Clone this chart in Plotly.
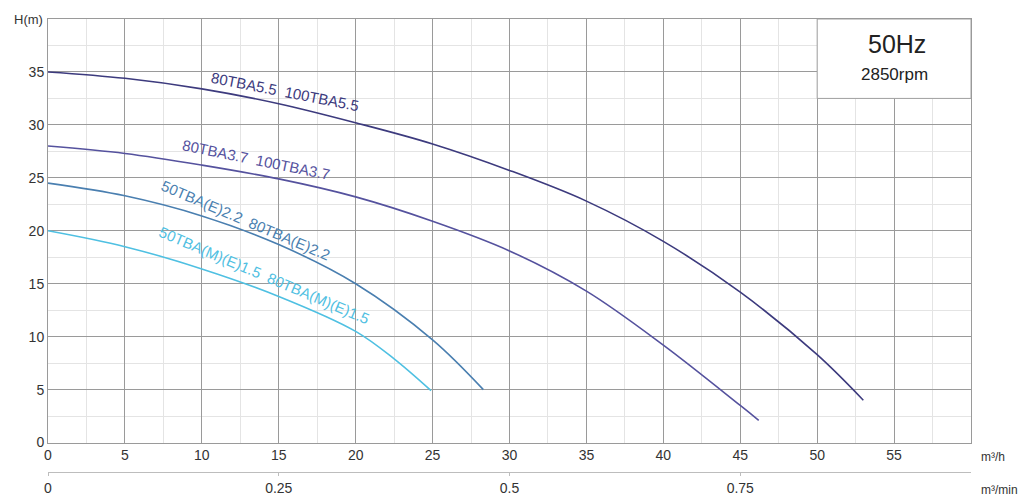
import plotly.graph_objects as go

# ---- data (flow m3/h, head m) ----
c1_x = [0, 5, 10, 15, 20, 25, 30, 35, 40, 45, 50, 53]
c1_y = [35, 34.4, 33.4, 32.0, 30.2, 28.2, 25.7, 22.8, 19.0, 14.2, 8.3, 4.0]
c2_x = [0, 5, 10, 15, 20, 25, 30, 35, 40, 45, 46.2]
c2_y = [28, 27.3, 26.2, 24.9, 23.2, 20.9, 18.1, 14.3, 9.2, 3.5, 2.1]
c3_x = [0, 5, 10, 15, 20, 25, 28.3]
c3_y = [24.5, 23.3, 21.4, 18.7, 15.0, 9.7, 5.0]
c4_x = [0, 5, 10, 15, 20, 22.5, 24.9]
c4_y = [20, 18.5, 16.4, 13.8, 10.5, 7.9, 4.9]

names = ["80TBA5.5  100TBA5.5", "80TBA3.7  100TBA3.7",
         "50TBA(E)2.2  80TBA(E)2.2", "50TBA(M)(E)1.5  80TBA(M)(E)1.5"]
colors = ["#3d3b7e", "#55529e", "#4a7fb0", "#4fc0e2"]
label_x = [15.4, 13.5, 12.9, 14.1]
label_y = [33.2, 26.7, 21.0, 15.8]
label_angle = [11, 11.5, 23, 23]

x_ticks_h = [0, 5, 10, 15, 20, 25, 30, 35, 40, 45, 50, 55]
x_ticks_min = [0, 0.25, 0.5, 0.75]
y_ticks = [0, 5, 10, 15, 20, 25, 30, 35]

FONT = "Arial, Liberation Sans, sans-serif"

fig = go.Figure()
for xs, ys, c in zip([c1_x, c2_x, c3_x, c4_x], [c1_y, c2_y, c3_y, c4_y], colors):
    fig.add_trace(go.Scatter(x=xs, y=ys, mode="lines",
                             line=dict(color=c, width=1.6, shape="spline", smoothing=1.0),
                             showlegend=False, hoverinfo="skip"))

# secondary axis trace (invisible) to activate xaxis2
fig.add_trace(go.Scatter(x=[0, 1], y=[None, None], xaxis="x2", yaxis="y",
                         mode="lines", showlegend=False, hoverinfo="skip"))

for t, x, y, a, c in zip(names, label_x, label_y, label_angle, colors):
    fig.add_annotation(x=x, y=y, text=t, textangle=a, showarrow=False,
                       font=dict(family=FONT, size=15, color=c))

# 50Hz box
fig.add_shape(type="rect", x0=50, x1=60, y0=32.5, y1=40, xref="x", yref="y",
              fillcolor="white", line=dict(color="#a0a0a0", width=1), layer="above")
fig.add_annotation(x=55.2, y=37.6, text="50Hz", showarrow=False,
                   font=dict(family=FONT, size=25, color="#222"))
fig.add_annotation(x=55.0, y=34.8, text="2850rpm", showarrow=False,
                   font=dict(family=FONT, size=17, color="#222"))

# axis unit labels
fig.add_annotation(x=0, y=1.0, xref="paper", yref="paper", text="H(m)", showarrow=False,
                   xanchor="right", yanchor="middle", xshift=-3,
                   font=dict(family=FONT, size=13, color="#333"))
fig.add_annotation(x=1.0, y=0.033, xref="paper", yref="paper", text="m³/h", showarrow=False,
                   xanchor="left", yanchor="middle", xshift=8,
                   font=dict(family=FONT, size=12, color="#333"))
fig.add_annotation(x=1.0, y=0, xref="paper", yref="paper", text="m³/min", showarrow=False,
                   xanchor="left", yanchor="middle", xshift=8, yshift=-18,
                   font=dict(family=FONT, size=12, color="#333"))

fig.update_layout(
    width=1022, height=497,
    margin=dict(l=48, r=51, t=19, b=25, autoexpand=False),
    paper_bgcolor="white", plot_bgcolor="white",
    font=dict(family=FONT, size=14, color="#333"),
    xaxis=dict(range=[0, 60], tickvals=x_ticks_h, showgrid=True, gridcolor="#9a9a9a",
               gridwidth=1, showline=True, linecolor="#9a9a9a", mirror=True,
               zeroline=False, ticks="", anchor="y", automargin=False,
               minor=dict(dtick=2.5, showgrid=True, gridcolor="#e4e4e4", gridwidth=1),
               tickfont=dict(size=14, color="#333")),
    xaxis2=dict(range=[0, 1.0], tickvals=x_ticks_min, ticktext=["0", "0.25", "0.5", "0.75"],
                overlaying="x", side="bottom", anchor="free", position=0,
                showgrid=False, showline=True, linecolor="#bdbdbd", zeroline=False,
                ticks="outside", ticklen=3, tickcolor="#bdbdbd", automargin=False,
                tickfont=dict(size=14, color="#333")),
    yaxis=dict(range=[0, 40], tickvals=y_ticks, domain=[0.065, 1],
               showgrid=True, gridcolor="#9a9a9a", gridwidth=1, automargin=False,
               showline=True, linecolor="#9a9a9a", mirror=True, zeroline=False,
               ticks="", minor=dict(dtick=2.5, showgrid=True, gridcolor="#e4e4e4", gridwidth=1),
               tickfont=dict(size=14, color="#333")),
)

fig.write_html("out.html", config={"displayModeBar": False},
               post_script="document.body.style.margin='0';")
